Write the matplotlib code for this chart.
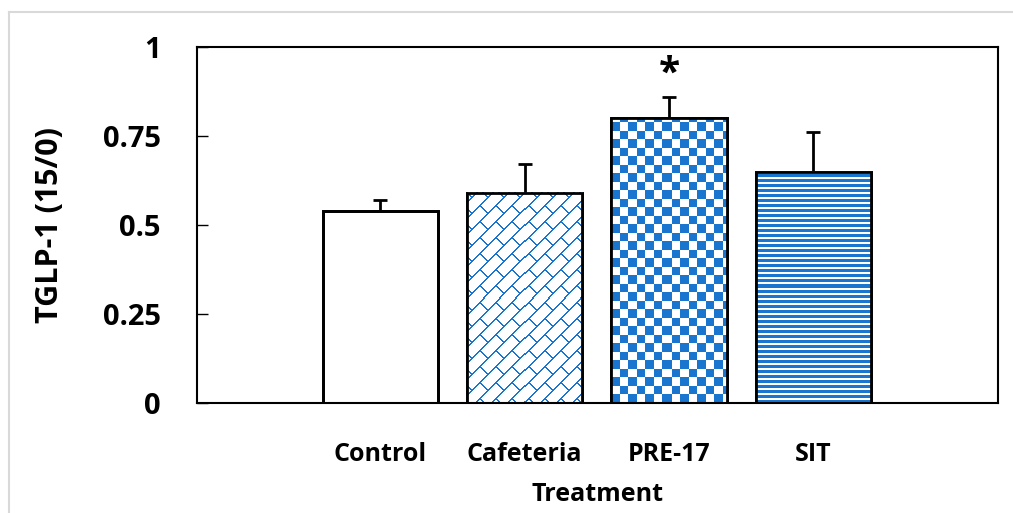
import numpy as np
import matplotlib
matplotlib.use('Agg')
import matplotlib.pyplot as plt
from matplotlib.lines import Line2D

categories = ['Control', 'Cafeteria', 'PRE-17', 'SIT']
means = [0.54, 0.59, 0.80, 0.65]
errors = [0.03, 0.08, 0.06, 0.11]
yticks = [0, 0.25, 0.5, 0.75, 1]
ytick_labels = ['0', '0.25', '0.5', '0.75', '1']

BLUE = '#1a75cf'

plt.rcParams['font.family'] = ['Open Sans', 'DejaVu Sans']
plt.rcParams['font.weight'] = 'bold'

fig = plt.figure(figsize=(10.13, 5.13), dpi=100)
ax = fig.add_axes([197 / 1013, 1 - 403 / 513, 801 / 1013, 356 / 513])

# light frame around the chart area
fig.add_artist(Line2D([9 / 1013, 9 / 1013], [0, 1 - 12 / 513], transform=fig.transFigure,
                      color='#d9d9d9', lw=1.5))
fig.add_artist(Line2D([9 / 1013, 1], [1 - 12 / 513, 1 - 12 / 513], transform=fig.transFigure,
                      color='#d9d9d9', lw=1.5))

x = np.arange(len(categories))
bars = ax.bar(x, means, width=0.8, color='white', edgecolor='black', linewidth=2, zorder=2)
ax.errorbar(x, means, yerr=[np.zeros(len(errors)), errors], fmt='none', ecolor='black',
            elinewidth=2, capsize=5, capthick=2, zorder=1)

ax.set_xlim(-1.27, 4.28)
ax.set_ylim(0, 1)
fig.canvas.draw()


def pattern_image(bar, kind):
    # build a pixel pattern sized to the bar's display extent
    x0, y0 = ax.transData.transform((bar.get_x(), bar.get_y()))
    x1, y1 = ax.transData.transform((bar.get_x() + bar.get_width(), bar.get_y() + bar.get_height()))
    w, h = int(round(x1 - x0)), int(round(y1 - y0))
    px, py = np.meshgrid(np.arange(w), np.arange(h)[::-1])
    img = np.ones((h, w, 3))
    blue = np.array(matplotlib.colors.to_rgb(BLUE))
    if kind == 'checker':
        sq = 8.5
        mask = ((np.floor(px / sq) + np.floor(py / sq)) % 2) == 0
    elif kind == 'stripes':
        mask = (py % 5) < 3
    else:
        P = 16
        s = px - py + 1000
        t = px + py
        band = np.floor(s / P)
        line = (s % P) < 1.5
        cross = ((t + (band % 2) * P) % (2 * P)) < 1.5
        mask = line | cross
    img[mask] = blue
    ax.imshow(img, extent=(bar.get_x(), bar.get_x() + bar.get_width(), 0, bar.get_height()),
              aspect='auto', interpolation='nearest', zorder=2.5, clip_path=bar)


pattern_image(bars[1], 'brick')
pattern_image(bars[2], 'checker')
pattern_image(bars[3], 'stripes')
ax.set_xlim(-1.27, 4.28)
ax.set_ylim(0, 1)

# redraw outlines on top of the patterns
for b in bars:
    ax.add_patch(plt.Rectangle((b.get_x(), 0), b.get_width(), b.get_height(), fill=False,
                               edgecolor='black', linewidth=2, zorder=3))

ax.text(2, 0.87, '*', ha='center', va='bottom', fontsize=28, fontweight='bold')

ax.set_yticks(yticks)
ax.set_yticklabels(ytick_labels)
ax.set_xticks(x)
ax.set_xticklabels(categories)
ax.tick_params(axis='y', direction='in', length=8, width=1, labelsize=21, pad=26)
ax.tick_params(axis='x', length=0, labelsize=18, pad=28)
for sp in ax.spines.values():
    sp.set_linewidth(1.5)

ax.set_xlabel('Treatment', fontsize=18, fontweight='bold', labelpad=11)
ax.set_ylabel('TGLP-1 (15/0)', fontsize=22, fontweight='bold', labelpad=27)

fig.savefig('out.png', dpi=100)
